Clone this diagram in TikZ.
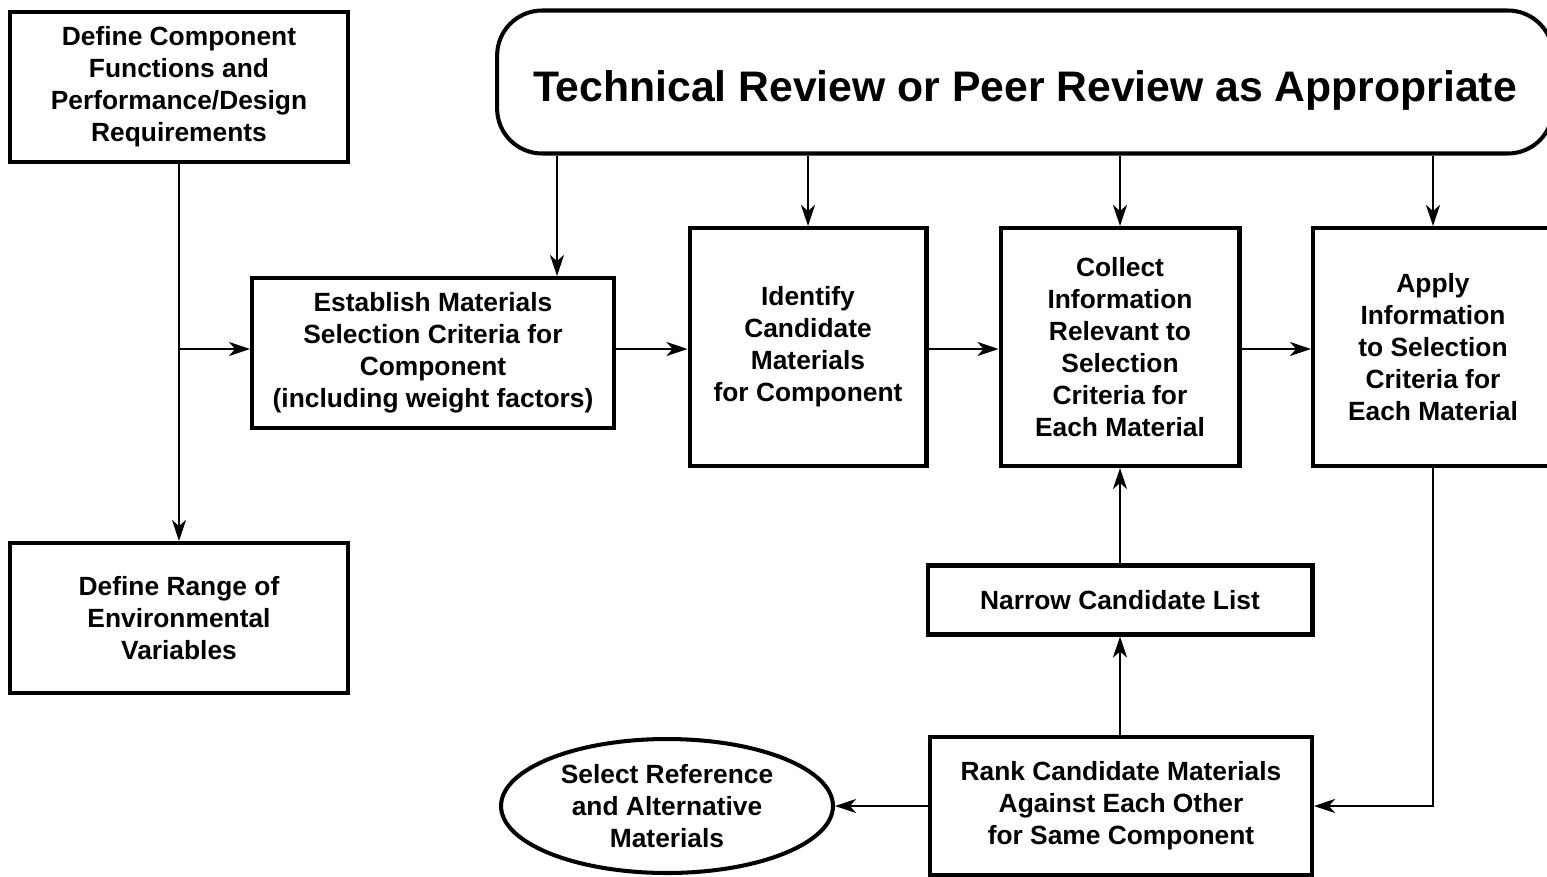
\documentclass[tikz,border=0pt]{standalone}
\usepackage{fontspec}
\setmainfont{Liberation Sans}
\usetikzlibrary{arrows.meta,shapes.geometric}
\begin{document}
\begin{tikzpicture}[x=0.02cm,y=-0.02cm,
  box/.style={draw, line width=2.3pt, align=center, inner sep=2pt,
    font=\fontsize{15}{18.2}\selectfont\bfseries},
  arr/.style={line width=1.3pt, -{Stealth[length=12pt,width=8pt,inset=3.5pt]}}]
\useasboundingbox (0,0) rectangle (1547,876);
\clip (0,0) rectangle (1547,876);
\node[box, minimum width=6.76cm, minimum height=3cm] (def) at (179,87)
  {Define Component\\Functions and\\Performance/Design\\Requirements};
\node[box, minimum width=6.76cm, minimum height=3cm] (env) at (179,618)
  {Define Range of\\Environmental\\Variables};
\node[box, minimum width=7.24cm, minimum height=3cm] (est) at (433,353)
  {Establish Materials\\Selection Criteria for\\Component\\(including weight factors)};
\node[box, minimum width=4.74cm, minimum height=4.76cm] (ide) at (808,347)
  {Identify\\Candidate\\Materials\\for Component};
\node[box, minimum width=4.78cm, minimum height=4.76cm] (col) at (1120,347)
  {Collect\\Information\\Relevant to\\Selection\\Criteria for\\Each Material};
\node[box, minimum width=4.8cm, minimum height=4.76cm] (app) at (1433,347)
  {Apply\\Information\\to Selection\\Criteria for\\Each Material};
\node[box, minimum width=7.7cm, minimum height=1.38cm] (nar) at (1120,600)
  {Narrow Candidate List};
\node[box, minimum width=7.64cm, minimum height=2.78cm] (ran) at (1121,806)
  {Rank Candidate Materials\\Against Each Other\\for Same Component};
\node[box, ellipse, inner sep=0pt, minimum width=6.64cm, minimum height=2.68cm] (sel) at (667,806)
  {Select Reference\\and Alternative\\Materials};
\node[box, rounded corners=0.9cm, minimum width=21.12cm, minimum height=2.86cm,
  font=\fontsize{24.3}{28}\selectfont\bfseries] (tit) at (1025,82)
  {\raisebox{-0.16cm}[\height][\depth]{Technical Review or Peer Review as Appropriate}};
\coordinate (t1) at (557,0);
\coordinate (hy) at (0,349);
% connectors
\draw[arr] (def.south) -- (env.north);
\draw[arr] (def.south |- hy) -- (est.west |- hy);
\draw[arr] (tit.south -| t1) -- (est.north -| t1);
\draw[arr] (tit.south -| ide.north) -- (ide.north);
\draw[arr] (tit.south -| col.north) -- (col.north);
\draw[arr] (tit.south -| app.north) -- (app.north);
\draw[arr] (est.east |- hy) -- (ide.west |- hy);
\draw[arr] (ide.east |- hy) -- (col.west |- hy);
\draw[arr] (col.east |- hy) -- (app.west |- hy);
\draw[arr] (app.south) -- (app.south |- ran.east) -- (ran.east);
\draw[arr] (nar.south |- ran.north) -- (nar.south);
\draw[arr] (nar.north) -- (col.south);
\draw[arr] (ran.west) -- (sel.east);
\end{tikzpicture}
\end{document}
